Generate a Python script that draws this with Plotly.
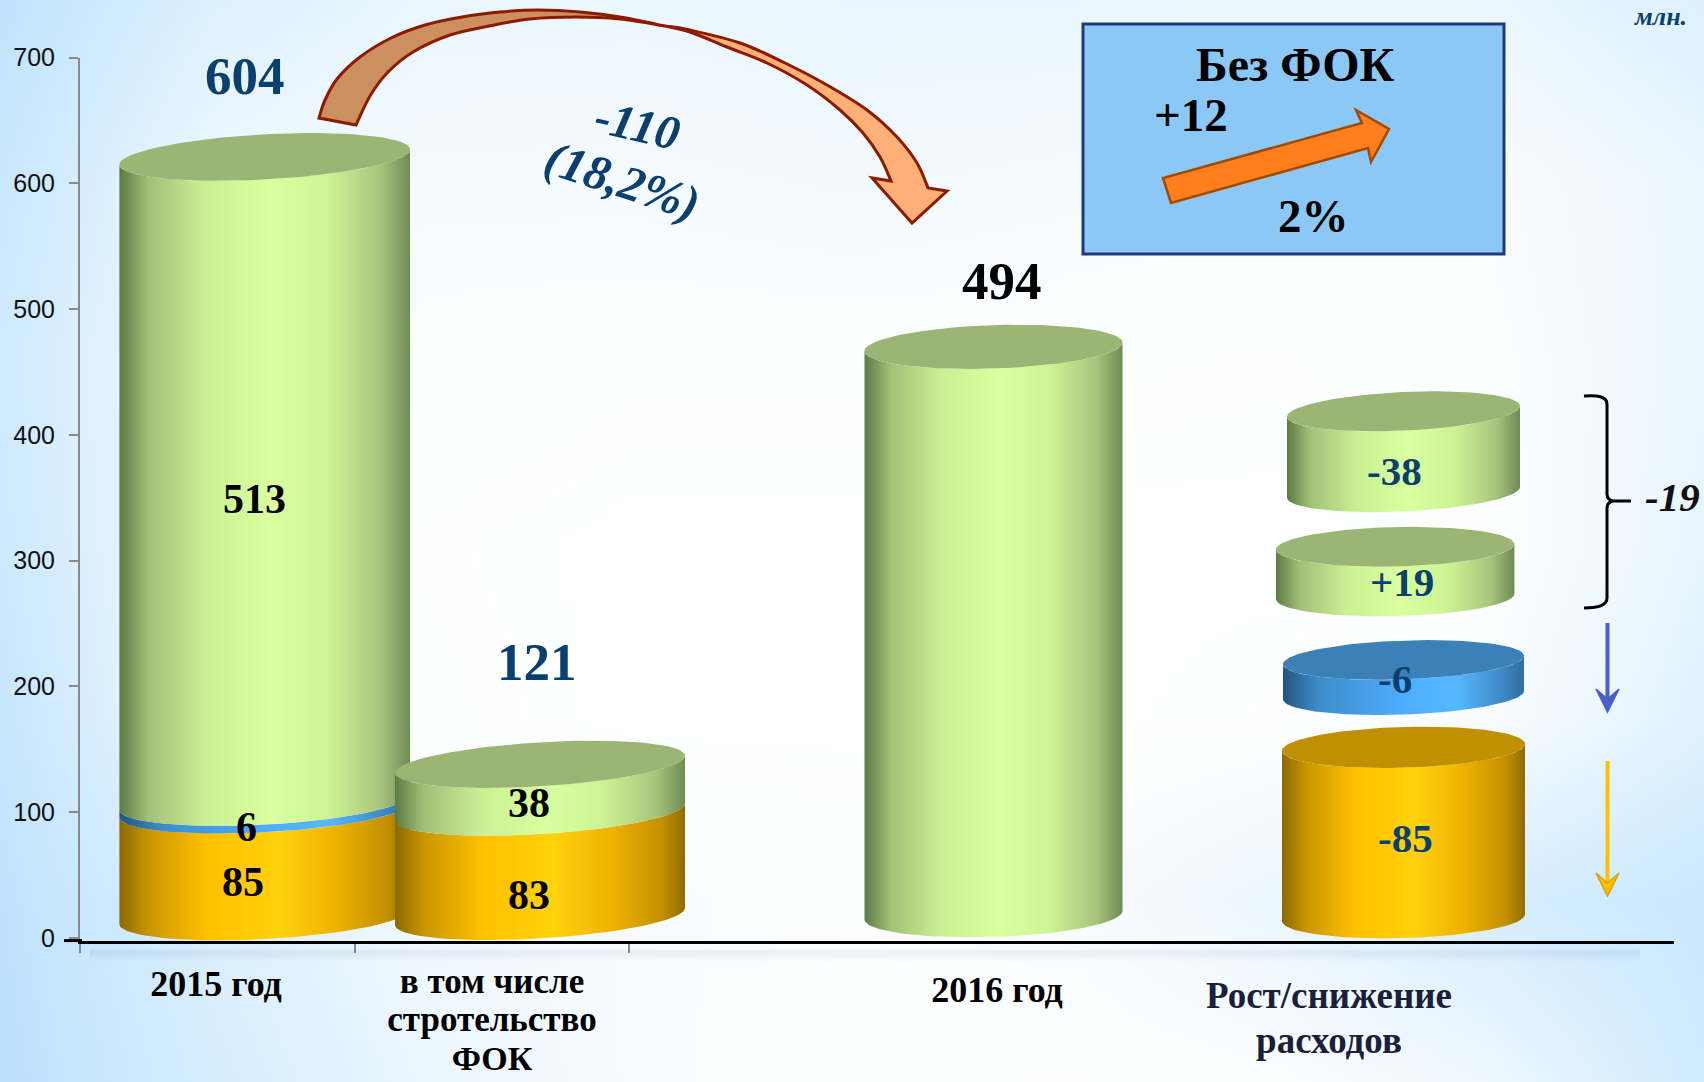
import numpy as np
import plotly.graph_objects as go

# ---------- data ----------
categories = ["2015 год", "в том числе", "стротельство", "ФОК", "2016 год", "Рост/снижение", "расходов"]
y_ticks = [0, 100, 200, 300, 400, 500, 600, 700]
values_2015 = [85, 6, 513]
values_fok = [83, 38]
totals = [604, 121, 494]
stack_floor = [17, 17]
cyl_2016_bottom, cyl_2016_top = 18, 470
change_labels = ["-85", "-6", "+19", "-38"]
change_bottom = [16, 193, 271.5, 354.4]
change_top = [151.5, 221, 311, 418.7]

# ---------- page geometry ----------
W, H = 1704, 1082
X0, X1 = 80, 1674
Y_BOTTOM, Y_TOP = 940.6, 57.6
CAT_PX = 274.5
PX_PER_UNIT = (Y_BOTTOM - Y_TOP) / 702.2
x_range = [-0.5, -0.5 + (X1 - X0) / CAT_PX]
y_range = [-2.2, 700]


def cat(px):
    return -0.5 + (px - X0) / CAT_PX


GREEN = [[0, "#5C7A45"], [.1, "#A3C078"], [.3, "#CBF094"], [.52, "#D9FFA0"], [.72, "#CDF394"], [.9, "#A8C47C"], [1, "#6F8A55"]]
ORANGE = [[0, "#8C6800"], [.1, "#C99600"], [.3, "#FFC000"], [.55, "#FFD20C"], [.75, "#EDB200"], [.92, "#C39000"], [1, "#8F6C00"]]
BLUE = [[0, "#23557F"], [.15, "#3E8DC9"], [.5, "#4DAEFF"], [.72, "#55B8FF"], [.9, "#3F8CC9"], [1, "#2F6E9F"]]
TOP_GREEN, TOP_ORANGE, TOP_BLUE = "#9BB674", "#C09000", "#3B81B7"
NAVY = "#0B3F6E"

T = np.linspace(0, np.pi, 60)
fig = go.Figure()

# background wash (page axes x / y, in pixels)
bg_x = [0, 213, 426, 639, 852, 1065, 1278, 1491, 1704]
bg_y = [0, 180, 360, 541, 721, 902, 1082]
bg_z = [
    [.95, .50, .30, .28, .32, .32, .28, .30, .50],
    [.80, .25, .14, .14, .18, .14, .10, .10, .30],
    [.70, .15, .05, .03, .03, .03, .02, .05, .30],
    [.75, .15, .02, 0, 0, 0, 0, .02, .35],
    [.85, .20, .03, 0, 0, 0, .02, .10, .45],
    [.95, .50, .20, .10, .05, .10, .30, .60, .80],
    [1, .60, .30, .10, .03, .02, .05, .25, .70],
]
fig.add_trace(go.Heatmap(x=bg_x, y=bg_y, z=bg_z, zmin=0, zmax=1, zsmooth="best", showscale=False,
                         colorscale=[[0, "#FFFFFF"], [1, "#BBE1FD"]], hoverinfo="skip",
                         xaxis="x", yaxis="y"))

# category labels as a text trace on the page axes
label_pos = [(216, 987), (492, 984), (492, 1022), (492, 1061), (997, 993), (1329, 999), (1329, 1044)]
label_size = [36, 35, 35, 34, 36, 37, 37]
for c, (x, y), s in zip(categories, label_pos, label_size):
    color = "#1A1F3A" if s == 37 else "#000000"
    fig.add_trace(go.Scatter(x=[x], y=[y], mode="text", text=[f"<b>{c}</b>"], textposition="middle center",
                             textfont=dict(family="Liberation Serif", size=s, color=color), hoverinfo="skip",
                             showlegend=False, xaxis="x", yaxis="y", cliponaxis=False))


def arc(cx, hw, level, ry, slope):
    """front (lower) half of a tilted ellipse, right to left, in axis units"""
    x = cat(cx) + hw / CAT_PX * np.cos(T)
    y = level - (ry * np.sin(T) - slope * np.cos(T)) / PX_PER_UNIT
    return x, y


def body(cx, hw, lo, hi, ry, slope, scale):
    xa, ya = arc(cx, hw, lo, ry, slope)
    xb, yb = arc(cx, hw, hi, ry, slope)
    xs = np.r_[xa, xb[::-1], xa[0]]
    ys = np.r_[ya, yb[::-1], ya[0]]
    fig.add_trace(go.Scatter(x=xs, y=ys, mode="lines", line=dict(width=0), fill="toself",
                             fillgradient=dict(type="horizontal", colorscale=scale),
                             hoverinfo="skip", showlegend=False, xaxis="x2", yaxis="y2"))


def cap(cx, hw, level, ry, slope, color):
    t = np.linspace(0, 2 * np.pi, 120)
    x = cat(cx) + hw / CAT_PX * np.cos(t)
    y = level - (ry * np.sin(t) - slope * np.cos(t)) / PX_PER_UNIT
    fig.add_trace(go.Scatter(x=x, y=y, mode="lines", line=dict(width=0), fill="toself", fillcolor=color,
                             hoverinfo="skip", showlegend=False, xaxis="x2", yaxis="y2"))


def stack(cx, hw, floor, values, scales, ry, slope, top_color):
    level = floor
    for v, s in zip(values, scales):
        body(cx, hw, level, level + v, ry, slope, s)
        level += v
    cap(cx, hw, level, ry, slope, top_color)


stack(264.7, 145.3, stack_floor[0], values_2015, [ORANGE, BLUE, GREEN], 22.6, 7.7, TOP_GREEN)
stack(540, 145, stack_floor[1], values_fok, [ORANGE, GREEN], 22, 8.6, TOP_GREEN)
stack(993.5, 129, cyl_2016_bottom, [cyl_2016_top - cyl_2016_bottom], [GREEN], 21.7, 4.2, TOP_GREEN)

change_geom = [
    (1403.5, 121.5, 20.4, 3.4, ORANGE, TOP_ORANGE),
    (1403.5, 120.5, 19.4, 4.2, BLUE, TOP_BLUE),
    (1395.2, 119.2, 19.7, 2.7, GREEN, TOP_GREEN),
    (1403.5, 116.5, 19.3, 5.3, GREEN, TOP_GREEN),
]
for lo, hi, (cx, hw, ry, sl, sc, tc) in zip(change_bottom, change_top, change_geom):
    stack(cx, hw, lo, [hi - lo], [sc], ry, sl, tc)


# ---------- decorations in page pixels ----------
def poly(points, close=True):
    d = "M" + " L".join(f"{x},{y}" for x, y in points)
    return d + (" Z" if close else "")


def smooth(points):
    """Catmull-Rom through the points, as cubic segments (no leading move)"""
    p = [points[0]] + list(points) + [points[-1]]
    out = ""
    for i in range(1, len(p) - 2):
        x0, y0 = p[i - 1]
        x1, y1 = p[i]
        x2, y2 = p[i + 1]
        x3, y3 = p[i + 2]
        out += (f" C{x1 + (x2 - x0) / 6:.1f},{y1 + (y2 - y0) / 6:.1f}"
                f" {x2 - (x3 - x1) / 6:.1f},{y2 - (y3 - y1) / 6:.1f} {x2},{y2}")
    return out


DARKRED = "#8B1A00"
shapes = []
for w, a, yy in [(14, .018, 954), (9, .028, 954), (5, .03, 953)]:
    shapes.append(dict(type="line", xref="x", yref="y", x0=90, x1=1640, y0=yy, y1=yy,
                       line=dict(color=f"rgba(80,110,140,{a})", width=w), layer="above"))
shapes.append(dict(type="line", xref="x", yref="y", x0=64, x1=82, y0=Y_BOTTOM, y1=Y_BOTTOM,
                   line=dict(color="#000000", width=3), layer="above"))
outer_back = [(319, 118), (325, 100), (337, 79), (360, 57), (391, 38), (425, 25), (462, 17), (500, 12), (538, 10),
              (580, 12), (620, 17), (665, 26)]
inner_back = [(665, 26), (620, 19), (576, 17), (530, 19), (489, 26), (450, 35), (413, 52), (388, 72), (370, 96), (356, 125)]
outer_front = [(665, 26), (690, 30), (740, 43), (783, 62), (827, 85), (867, 110), (897, 137), (917, 163), (928, 188)]
inner_front = [(891, 181), (880, 157), (863, 133), (840, 110), (807, 85), (767, 63), (727, 47), (690, 32), (665, 26)]
back_path = f"M319,118{smooth(outer_back)}{smooth(inner_back)} Z"
front_path = f"M665,26{smooth(outer_front)} L947,191 L912,223 L872,178 L891,181{smooth(inner_front)} Z"
shapes.append(dict(type="path", xref="x", yref="y", path=back_path, fillcolor="#CC9060",
                   line=dict(color=DARKRED, width=3), layer="above"))
shapes.append(dict(type="path", xref="x", yref="y", path=front_path, fillcolor="#FFB078",
                   line=dict(color=DARKRED, width=3), layer="above"))
shapes.append(dict(type="rect", xref="x", yref="y", x0=1083, x1=1504, y0=24, y1=254, fillcolor="#8CC8F6",
                   line=dict(color="#1F3A7A", width=3), layer="above"))
shapes.append(dict(type="path", xref="x", yref="y",
                   path=poly([(1163, 178), (1171, 203), (1368, 148), (1371, 162), (1389, 129), (1356, 110), (1362, 123)]),
                   fillcolor="#FF7F1E", line=dict(color="#A34A00", width=2.5), layer="above"))
shapes.append(dict(type="path", xref="x", yref="y",
                   path="M1584,396 Q1607,394 1607,404 L1607,494 Q1607,501 1615,501 L1631,501 M1615,501 Q1607,501 1607,508 L1607,598 Q1607,608 1584,608",
                   line=dict(color="#000000", width=3), layer="above"))
for top, tip, wing, col, edge in [(623, 712, 689, "#4A5FC8", "#4A5FC8"), (761, 896, 873, "#FFC000", "#D9A300")]:
    shapes.append(dict(type="line", xref="x", yref="y", x0=1607.5, x1=1607.5, y0=top, y1=tip - 10,
                       line=dict(color=col, width=4), layer="above"))
    shapes.append(dict(type="path", xref="x", yref="y",
                       path=poly([(1596, wing), (1607.5, tip), (1619, wing), (1607.5, tip - 13)]),
                       fillcolor=col, line=dict(color=edge, width=1.5), layer="above"))

# ---------- text ----------
SERIF = "Liberation Serif"
notes = []


def note(text, x, y, size, color="#000000", italic=False, angle=0, xanchor="center", yanchor="middle"):
    t = f"<b><i>{text}</i></b>" if italic else f"<b>{text}</b>"
    notes.append(dict(text=t, x=x, y=y, xref="x", yref="y", showarrow=False, xanchor=xanchor, yanchor=yanchor,
                      textangle=angle, font=dict(family=SERIF, size=size, color=color)))


note(totals[0], 245, 76, 53, NAVY)
note(totals[1], 537, 662, 53, NAVY)
note(totals[2], 1002, 281, 53)
for v, x, y in zip(values_2015, [243, 246, 254], [882, 827, 499]):
    note(v, x, y, 42)
for v, x, y in zip(values_fok, [529, 529], [895, 803]):
    note(v, x, y, 42)
for v, x, y in zip(change_labels, [1405, 1395, 1402, 1394], [838, 679, 582, 471]):
    note(v, x, y, 41, NAVY)
note("-110", 637, 124, 48, NAVY, italic=True, angle=13)
note("(18,2%)", 622, 180, 49, NAVY, italic=True, angle=18)
note("Без ФОК", 1295, 64, 48)
note("+12", 1191, 115, 47)
note("2%", 1313, 216, 47)
note("-19", 1672, 497, 41, "#111111", italic=True)
note("млн.", 1632, 0, 26, NAVY, italic=True, xanchor="left", yanchor="top")

fig.update_layout(
    width=W, height=H, autosize=False, margin=dict(l=0, r=0, t=0, b=0, pad=0, autoexpand=False),
    paper_bgcolor="#FFFFFF", plot_bgcolor="rgba(0,0,0,0)", showlegend=False,
    shapes=shapes, annotations=notes,
    xaxis=dict(domain=[0, 1], range=[0, W], visible=False, fixedrange=True),
    yaxis=dict(domain=[0, 1], range=[H, 0], visible=False, fixedrange=True),
    xaxis2=dict(domain=[X0 / W, X1 / W], range=x_range, anchor="y2", showgrid=False, zeroline=False,
                showline=True, linecolor="#000000", linewidth=3,
                tickvals=[-0.5, 0.5, 1.5], ticktext=["", "", ""], ticks="outside", ticklen=9,
                tickcolor="#8A8A8A", tickwidth=2, fixedrange=True),
    yaxis2=dict(domain=[1 - Y_BOTTOM / H, 1 - Y_TOP / H], range=y_range, anchor="x2", showgrid=False, zeroline=False,
                showline=True, linecolor="#8A8A8A", linewidth=2,
                tickvals=y_ticks, ticks="outside", ticklen=9, tickcolor="#8A8A8A", tickwidth=2,
                ticklabelstandoff=9, tickfont=dict(family="Liberation Sans", size=25, color="#111111"),
                fixedrange=True),
)
fig.write_html("out.html", config=dict(displayModeBar=False),
               post_script="document.body.style.margin='0';document.body.style.overflow='hidden';")
